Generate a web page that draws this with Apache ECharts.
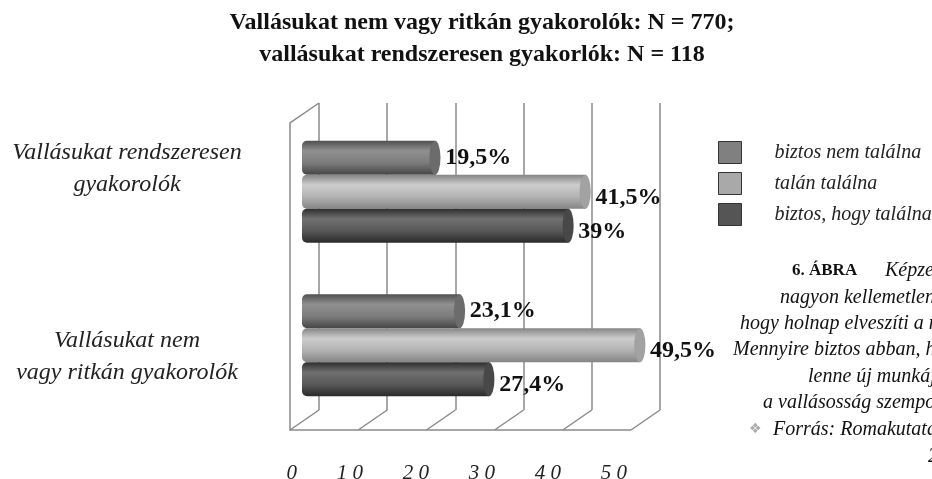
<!DOCTYPE html>
<html>
<head>
<meta charset="utf-8">
<script src="https://cdn.jsdelivr.net/npm/echarts@6/dist/echarts.min.js"></script>
<style>
  html, body { margin: 0; padding: 0; background: #fff; }
  #chart { width: 932px; height: 479px; }
</style>
</head>
<body>
<div id="chart"></div>
<script>
// adatok
const groups = ['Vallásukat nem\nvagy ritkán gyakorolók', 'Vallásukat rendszeresen\ngyakorolók'];
const seriesNames = ['biztos nem találna', 'talán találna', 'biztos, hogy találna'];
const biztosNem = [23.1, 19.5];
const talan = [49.5, 41.5];
const biztosHogy = [27.4, 39];
const ticks = [0, 10, 20, 30, 40, 50];
const titleText = 'Vallásukat nem vagy ritkán gyakorolók: N = 770;\nvallásukat rendszeresen gyakorlók: N = 118';
const captionLines = [
  'nagyon kellemetlen',
  'hogy holnap elveszíti a munkáját.',
  'Mennyire biztos abban, hogy',
  'lenne új munkája?',
  'a vallásosság szempontjából',
  'Forrás: Romakutatás',
  '2'
];

const SERIF = 'Liberation Serif';
const BACK = {left: 319, top: 103, width: 341, height: 307}; // hátsó fal
const DEPTH = [-29, 20]; // eltolás a hátsó faltól az elülső élig

const grad = (c) => new echarts.graphic.LinearGradient(0, 0, 0, 1, [
  {offset: 0, color: c[0]},
  {offset: 0.3, color: c[1]},
  {offset: 0.65, color: c[2]},
  {offset: 1, color: c[3]}
]);
const legendColors = ['#808080', '#a9a9a9', '#555555'];
const barColors = [
  ['#505050', '#909090', '#7c7c7c', '#464646'],
  ['#858585', '#cdcdcd', '#b2b2b2', '#858585'],
  ['#2e2e2e', '#707070', '#585858', '#2a2a2a']
];
const capColors = ['#6c6c6c', '#a2a2a2', '#484848'];

const fmt = (v) => String(v).replace('.', ',') + '%';

// az első sorozat kerül felülre
const order = [0, 1, 2];
const values = [biztosNem, talan, biztosHogy];
const labelOffsets = [[0, 0], [0, 6], [0, 6]];

let seriesA = [];
order.forEach(function (i) {
  seriesA.push({
    name: seriesNames[i],
    type: 'bar',
    xAxisIndex: 1,
    yAxisIndex: 1,
    barWidth: 34,
    barGap: '0%',
    z: 3,
    itemStyle: {
      color: grad(barColors[i]),
      borderRadius: [5, 0, 0, 5]
    },
    label: {
      show: true,
      position: 'right',
      distance: 10,
      offset: labelOffsets[i],
      formatter: (p) => fmt(p.value),
      fontFamily: SERIF,
      fontWeight: 'bold',
      fontSize: 24,
      color: '#111'
    },
    data: values[i]
  });
});
order.forEach(function (i) {
  seriesA.push({
    name: 'cap' + i,
    type: 'pictorialBar',
    xAxisIndex: 1,
    yAxisIndex: 1,
    barWidth: 34,
    barGap: '0%',
    symbol: 'circle',
    symbolSize: [11, 34],
    symbolPosition: 'end',
    symbolOffset: ['50%', 0],
    z: 4,
    itemStyle: {
      color: capColors[i],
      borderColor: '#3a3a3a',
      borderWidth: 0.8
    },
    data: values[i]
  });
});

let option = {
  backgroundColor: '#fff',
  animation: false,
  title: {
    text: titleText,
    left: 477,
    top: 2,
    textAlign: 'center',
    textStyle: {
      fontFamily: SERIF,
      fontWeight: 'bold',
      fontSize: 24,
      lineHeight: 32,
      color: '#111'
    }
  },
  legend: {
    orient: 'vertical',
    left: 718,
    top: 141,
    padding: 0,
    itemWidth: 23,
    itemHeight: 22,
    itemGap: 8,
    icon: 'rect',
    textStyle: {
      fontFamily: SERIF,
      fontStyle: 'italic',
      fontSize: 20,
      color: '#222',
      padding: [0, 0, 0, 28]
    },
    data: seriesNames.map((n, i) => ({
      name: n,
      itemStyle: {color: legendColors[i], borderColor: '#333', borderWidth: 1}
    }))
  },
  grid: [
    // hátsó fal
    {left: BACK.left, top: BACK.top, width: BACK.width, height: BACK.height, outerBoundsMode: 'none'},
    // oszlopok
    {left: 302, top: 115, width: 341.5, height: 307, outerBoundsMode: 'none'},
    // feliratok
    {left: 297, top: 75, width: 330, height: 376, outerBoundsMode: 'none'}
  ],
  xAxis: [
    {
      gridIndex: 0, type: 'value', min: 0, max: 50, interval: 10,
      axisLine: {show: false}, axisTick: {show: false}, axisLabel: {show: false},
      splitLine: {show: true, lineStyle: {color: '#8a8a8a', width: 1.5}}
    },
    {
      gridIndex: 1, type: 'value', min: 0, max: 50, show: false
    },
    {
      gridIndex: 2, type: 'value', min: 0, max: 50, interval: 10,
      axisLine: {show: false}, axisTick: {show: false}, splitLine: {show: false},
      axisLabel: {
        show: true, margin: 12, align: 'right',
        fontFamily: SERIF, fontStyle: 'italic', fontSize: 21, color: '#222',
        formatter: (v) => String(v).split('').join(' ')
      }
    }
  ],
  yAxis: [
    {gridIndex: 0, type: 'value', min: 0, max: 1, show: false},
    {gridIndex: 1, type: 'category', data: groups, show: false},
    {
      gridIndex: 2, type: 'category', data: groups,
      axisLine: {show: false}, axisTick: {show: false},
      axisLabel: {
        margin: 170, align: 'center',
        fontFamily: SERIF, fontStyle: 'italic', fontSize: 24, lineHeight: 32, color: '#222'
      }
    }
  ],
  series: seriesA
};

const chart = echarts.init(document.getElementById('chart'));
chart.setOption(option);

// 3D keret a hátsó fal skálájából
const frameStyle = {stroke: '#8a8a8a', lineWidth: 1.5, fill: null};
const bottom = BACK.top + BACK.height;
const px = (v) => chart.convertToPixel({xAxisIndex: 0}, v);
let graphics = [];
ticks.forEach(function (t) {
  const x = px(t);
  graphics.push({type: 'line', silent: true, z: 1,
    shape: {x1: x, y1: bottom, x2: x + DEPTH[0], y2: bottom + DEPTH[1]}, style: frameStyle});
});
const x0 = px(ticks[0]);
const xN = px(ticks[ticks.length - 1]);
graphics.push({type: 'polyline', silent: true, z: 1,
  shape: {points: [
    [x0, BACK.top],
    [x0 + DEPTH[0], BACK.top + DEPTH[1]],
    [x0 + DEPTH[0], bottom + DEPTH[1]],
    [xN + DEPTH[0], bottom + DEPTH[1]]
  ]}, style: frameStyle});

// ábra felirata jobb oldalt (kilóg a képből)
const capFont = 'italic 20px "' + SERIF + '"';
graphics.push({type: 'text', left: 792, top: 262, silent: true,
  style: {text: '6. ÁBRA', font: 'bold 17px "' + SERIF + '"', fill: '#111'}});
graphics.push({type: 'text', left: 885, top: 261, silent: true,
  style: {text: 'Képzelje el, hogy', font: capFont, fill: '#111'}});
const capX = [780, 740, 733, 808, 763, 773, 928];
const capY = [288, 314, 340, 367, 393, 420, 447];
captionLines.forEach(function (s, i) {
  graphics.push({type: 'text', left: capX[i], top: capY[i], silent: true,
    style: {text: s, font: capFont, fill: '#111'}});
});
graphics.push({type: 'text', left: 749, top: 422, silent: true,
  style: {text: '❖', font: '14px "DejaVu Sans"', fill: '#aaa'}});

chart.setOption({graphic: graphics});
</script>
</body>
</html>
